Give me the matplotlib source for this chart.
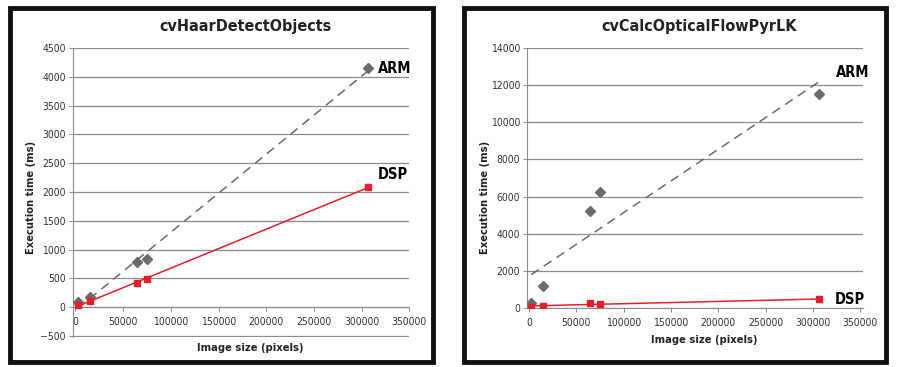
import numpy as np
import matplotlib.pyplot as plt
from matplotlib.patches import Rectangle

plt.rcParams['font.family'] = ['DejaVu Sans']
plt.rcParams['font.stretch'] = 'condensed'

# data
image_size = [2300, 14700, 64000, 75500, 307000]
haar_arm = [86, 173, 777, 834, 4143]
haar_dsp = [46, 115, 414, 483, 2089]
flow_arm = [270, 1217, 5227, 6230, 11493]
flow_dsp = [86, 124, 268, 231, 483]

titles = ['cvHaarDetectObjects', 'cvCalcOpticalFlowPyrLK']
x_ticks = [0, 50000, 100000, 150000, 200000, 250000, 300000, 350000]

GRAY = '#6b6b6b'
RED = '#e3202a'
GRID = '#8c8c8c'

fig = plt.figure(figsize=(9, 3.67), dpi=100)

# black panel frames
for x0, x1 in [(10, 433), (464, 886)]:
    fig.add_artist(Rectangle((x0 / 900, 1 - 362 / 367), (x1 - x0) / 900, 354 / 367,
                             transform=fig.transFigure, fill=False,
                             edgecolor='#111111', linewidth=3.5))


def trend(ax, x, y, color, ls):
    # linear trendline like the spreadsheet one
    k, b = np.polyfit(x, y, 1)
    xs = np.array([x[0], x[-1]])
    ax.plot(xs, k * xs + b, color=color, ls=ls, lw=1.1,
            dashes=(6, 4) if ls == '--' else (None, None), zorder=3)


def setup(ax, title, ylim, yticks, xlim, title_y, xlabel_y, ylabel_x):
    ax.set_xlim(*xlim)
    ax.set_ylim(*ylim)
    ax.set_yticks(yticks)
    ax.set_xticks(x_ticks)
    ax.set_xticklabels([str(v) for v in x_ticks])
    ax.set_yticklabels([str(v).replace('-', '\u2212') for v in yticks])
    ax.grid(axis='y', color=GRID, lw=0.9)
    ax.set_axisbelow(True)
    for s in ['top', 'right']:
        ax.spines[s].set_visible(False)
    ax.spines['left'].set_color(GRID)
    ax.spines['bottom'].set_color(GRID)
    ax.spines['bottom'].set_position(('data', 0))
    ax.tick_params(axis='both', labelsize=7.5, colors='#333333', length=3,
                   width=0.7, pad=2)
    ax.tick_params(axis='x', pad=4)
    ax.tick_params(axis='both', color=GRID)
    pos = ax.get_position()
    fig.text(pos.x0 + pos.width / 2 + 0.005, title_y, title, ha='center', va='center',
             fontsize=11.5, fontweight='bold', color='#222222')
    fig.text(pos.x0 + pos.width / 2 + 0.01, xlabel_y, 'Image size (pixels)',
             ha='center', va='center', fontsize=8, fontweight='bold', color='#222222')
    fig.text(ylabel_x, 1 - 197 / 367, 'Execution time (ms)', rotation=90,
             ha='center', va='center', fontsize=8, fontweight='bold', color='#222222')


# left chart
ax1 = fig.add_axes([0.0807, 0.0826, 0.374, 0.787])
setup(ax1, titles[0], (-510, 4500), list(range(-500, 4501, 500)), (-3000, 350000),
      1 - 26 / 367, 1 - 348 / 367, 31 / 900)
trend(ax1, image_size, haar_arm, GRAY, '--')
trend(ax1, image_size, haar_dsp, RED, '-')
ax1.plot(image_size, haar_arm, 'D', color=GRAY, ms=5, zorder=4)
ax1.plot(image_size, haar_dsp, 's', color=RED, ms=4.5, zorder=4)
ax1.text(317500, 4150, 'ARM', fontsize=10.5, fontweight='bold', va='center', ha='left')
ax1.text(317500, 2300, 'DSP', fontsize=10.5, fontweight='bold', va='center', ha='left')

# right chart
ax2 = fig.add_axes([0.5859, 0.160, 0.3726, 0.710])
setup(ax2, titles[1], (0, 14000), list(range(0, 14001, 2000)), (-1800, 352700),
      1 - 26 / 367, 1 - 340 / 367, 485 / 900)
trend(ax2, image_size, flow_arm, GRAY, '--')
trend(ax2, image_size, flow_dsp, RED, '-')
ax2.plot(image_size, flow_arm, 'D', color=GRAY, ms=5, zorder=4)
ax2.plot(image_size, flow_dsp, 's', color=RED, ms=4.5, zorder=4)
ax2.text(324000, 12680, 'ARM', fontsize=10.5, fontweight='bold', va='center', ha='left')
ax2.text(322800, 480, 'DSP', fontsize=10.5, fontweight='bold', va='center', ha='left')

fig.savefig('out.png', dpi=100)
